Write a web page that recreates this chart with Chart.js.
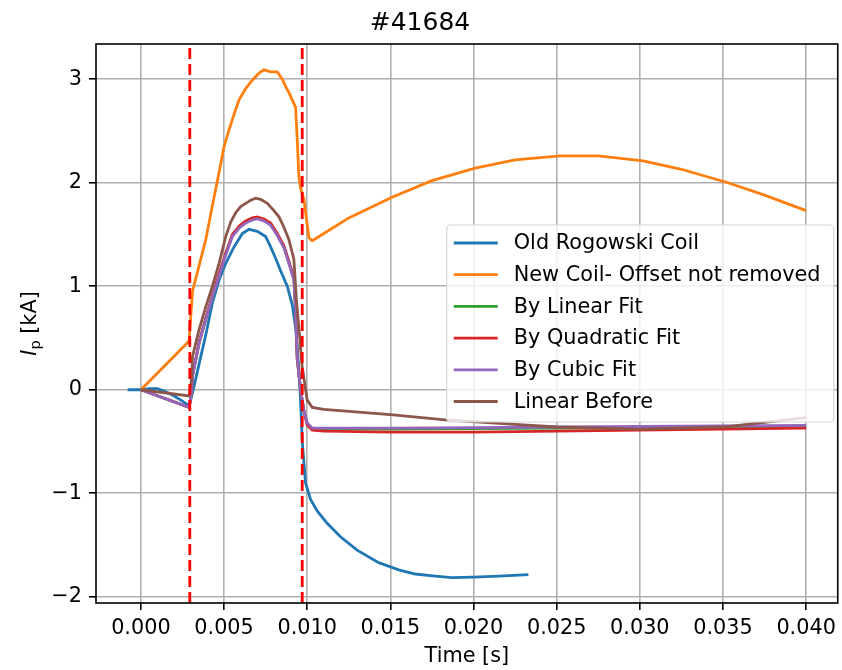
<!DOCTYPE html>
<html>
<head>
<meta charset="utf-8">
<script src="https://cdn.jsdelivr.net/npm/chart.js@4.4.0/dist/chart.umd.min.js"></script>
<style>
  body { margin: 0; background: #fff; }
  #wrap { width: 842px; height: 670px; }
</style>
</head>
<body>
<div id="wrap"><canvas id="c" width="842" height="670"></canvas></div>
<script>
// shot #41684, plasma current (time in s, Ip in kA)
var tOld = [-0.0008, 0.0, 0.0005, 0.0010, 0.0015, 0.0020, 0.0025, 0.0029, 0.00315, 0.0035, 0.0039, 0.0043, 0.0047, 0.0051, 0.0056, 0.0061, 0.0065, 0.0070, 0.0075, 0.0078, 0.0081, 0.0084, 0.0088, 0.0091, 0.0093, 0.0095, 0.0096, 0.0097, 0.0099, 0.0102, 0.0106, 0.0112, 0.0120, 0.0130, 0.0143, 0.0155, 0.0165, 0.0177, 0.0187, 0.0200, 0.0215, 0.0233];
var ipOld = [0.0, 0.0, 0.01, 0.01, -0.02, -0.06, -0.11, -0.155, 0.0, 0.25, 0.53, 0.84, 1.06, 1.22, 1.38, 1.51, 1.55, 1.53, 1.48, 1.38, 1.27, 1.15, 1.0, 0.82, 0.6, 0.2, -0.1, -0.5, -0.9, -1.06, -1.17, -1.29, -1.42, -1.55, -1.67, -1.74, -1.78, -1.80, -1.815, -1.81, -1.80, -1.785];

var tNew = [0.0, 0.0029, 0.0031, 0.0035, 0.0039, 0.0043, 0.0047, 0.0050, 0.0053, 0.0056, 0.0059, 0.0063, 0.0067, 0.0071, 0.0074, 0.0078, 0.0082, 0.0085, 0.0087, 0.0089, 0.0091, 0.0093, 0.0094, 0.0095, 0.0096, 0.0098, 0.0101, 0.0103, 0.0110, 0.0125, 0.0151, 0.0175, 0.0201, 0.0225, 0.0252, 0.0275, 0.0302, 0.0325, 0.0353, 0.0375, 0.0400];
var ipNew = [0.0, 0.47, 0.95, 1.2, 1.45, 1.78, 2.1, 2.35, 2.51, 2.66, 2.80, 2.91, 2.99, 3.06, 3.09, 3.07, 3.07, 3.0, 2.93, 2.87, 2.80, 2.73, 2.42, 2.06, 1.95, 1.84, 1.47, 1.44, 1.51, 1.66, 1.86, 2.02, 2.14, 2.22, 2.26, 2.26, 2.21, 2.13, 2.0, 1.88, 1.73];

var tFit = [0.0, 0.0029, 0.00305, 0.0031, 0.0035, 0.0039, 0.0043, 0.0047, 0.0051, 0.0055, 0.0059, 0.0063, 0.0067, 0.0070, 0.0074, 0.0078, 0.0082, 0.0086, 0.0089, 0.0092, 0.0093, 0.0094, 0.0096, 0.0098, 0.0100, 0.0103, 0.0110, 0.0150, 0.0200, 0.0250, 0.0300, 0.0350, 0.0400];
var ipLinear = [0.0, -0.17, -0.02, 0.13, 0.455, 0.685, 0.905, 1.11, 1.31, 1.49, 1.57, 1.62, 1.65, 1.66, 1.64, 1.60, 1.50, 1.38, 1.23, 1.07, 0.775, 0.3, 0.0, -0.2, -0.33, -0.38, -0.38, -0.38, -0.375, -0.37, -0.365, -0.36, -0.355];
var ipQuad = [0.0, -0.17, -0.02, 0.13, 0.46, 0.69, 0.91, 1.12, 1.32, 1.50, 1.58, 1.63, 1.66, 1.67, 1.65, 1.61, 1.51, 1.39, 1.24, 1.08, 0.78, 0.3, 0.0, -0.21, -0.34, -0.39, -0.40, -0.41, -0.41, -0.40, -0.39, -0.38, -0.37];
var ipCubic = [0.0, -0.17, -0.02, 0.13, 0.45, 0.68, 0.9, 1.1, 1.3, 1.48, 1.56, 1.61, 1.64, 1.65, 1.63, 1.59, 1.49, 1.37, 1.22, 1.06, 0.77, 0.3, 0.0, -0.2, -0.32, -0.37, -0.37, -0.37, -0.365, -0.36, -0.355, -0.35, -0.345];

var tBefore = [0.0, 0.0029, 0.00305, 0.0031, 0.0035, 0.0039, 0.0043, 0.0047, 0.0051, 0.0054, 0.0057, 0.0060, 0.0063, 0.0066, 0.0069, 0.0072, 0.0076, 0.0080, 0.0083, 0.0086, 0.0089, 0.0092, 0.00935, 0.0097, 0.0100, 0.0103, 0.0110, 0.0150, 0.0183, 0.0220, 0.0250, 0.0300, 0.0350, 0.0400];
var ipBefore = [0.0, -0.06, 0.1, 0.32, 0.58, 0.8, 1.0, 1.22, 1.48, 1.62, 1.71, 1.77, 1.80, 1.83, 1.85, 1.84, 1.80, 1.73, 1.67, 1.57, 1.45, 1.26, 0.87, 0.22, -0.1, -0.17, -0.19, -0.24, -0.29, -0.33, -0.36, -0.38, -0.36, -0.27];

var markTimes = [0.00294, 0.0097];   // red dashed window
var xMin = -0.0027, xMax = 0.0419;
var yMin = -2.06, yMax = 3.34;

var seriesNames = ['Old Rogowski Coil', 'New Coil- Offset not removed', 'By Linear Fit', 'By Quadratic Fit', 'By Cubic Fit', 'Linear Before'];
var seriesColors = ['#1f77b4', '#ff7f0e', '#2ca02c', '#d62728', '#9467bd', '#8c564b'];

var FONT = 'DejaVu Sans';
var LW = 2.8;

function pts(ts, vs) {
    return ts.map(function (t, i) { return {x: t, y: vs[i]}; });
}

var series = [pts(tOld, ipOld), pts(tNew, ipNew), pts(tFit, ipLinear), pts(tFit, ipQuad), pts(tFit, ipCubic), pts(tBefore, ipBefore)];

var datasets = [];
for (var i = 0; i < series.length; i++) {
    datasets.push({
        label: seriesNames[i],
        data: series[i],
        borderColor: seriesColors[i],
        backgroundColor: seriesColors[i],
        borderWidth: LW,
        pointRadius: 0,
        tension: 0,
        fill: false,
        order: series.length + 1 - i   // later series on top, like matplotlib
    });
}
markTimes.forEach(function (m) {
    datasets.push({
        label: '',
        data: [{x: m, y: yMin}, {x: m, y: yMax}],
        borderColor: '#ff0000',
        borderWidth: LW,
        borderDash: [11, 5],
        pointRadius: 0,
        fill: false,
        order: 0
    });
});

// frame, legend box and the Ip label
var mplExtras = {
    id: 'mplExtras',
    afterDatasetsDraw: function (chart) {
        var ctx = chart.ctx, ca = chart.chartArea;
        ctx.save();
        ctx.strokeStyle = '#000';
        ctx.lineWidth = 1.6;
        ctx.strokeRect(ca.left, ca.top, ca.right - ca.left, ca.bottom - ca.top);

        // legend, center right
        var bw = 387, bh = 197;
        var bx = ca.right - 4 - bw;
        var by = (ca.top + ca.bottom) / 2 - bh / 2;
        var r = 4;
        ctx.beginPath();
        ctx.moveTo(bx + r, by);
        ctx.arcTo(bx + bw, by, bx + bw, by + bh, r);
        ctx.arcTo(bx + bw, by + bh, bx, by + bh, r);
        ctx.arcTo(bx, by + bh, bx, by, r);
        ctx.arcTo(bx, by, bx + bw, by, r);
        ctx.closePath();
        ctx.fillStyle = 'rgba(255,255,255,0.8)';
        ctx.fill();
        ctx.strokeStyle = '#d6d6d6';
        ctx.lineWidth = 1.2;
        ctx.stroke();

        ctx.font = '20.8px "' + FONT + '"';
        ctx.textBaseline = 'middle';
        ctx.textAlign = 'left';
        for (var k = 0; k < seriesNames.length; k++) {
            var yy = by + 18 + k * 31.7;
            ctx.strokeStyle = seriesColors[k];
            ctx.lineWidth = LW;
            ctx.beginPath();
            ctx.moveTo(bx + 7, yy);
            ctx.lineTo(bx + 51, yy);
            ctx.stroke();
            ctx.fillStyle = '#000';
            ctx.fillText(seriesNames[k], bx + 67, yy + 1);
        }
        ctx.restore();

        // y label: italic I with subscript p
        ctx.save();
        ctx.translate(28, (ca.top + ca.bottom) / 2);
        ctx.rotate(-Math.PI / 2);
        ctx.fillStyle = '#000';
        ctx.textBaseline = 'alphabetic';
        ctx.textAlign = 'left';
        var fI = 'italic 20.8px "' + FONT + '"', fP = '14.6px "' + FONT + '"', fR = '20.8px "' + FONT + '"';
        ctx.font = fI; var wI = ctx.measureText('I').width;
        ctx.font = fP; var wP = ctx.measureText('p').width;
        ctx.font = fR; var wR = ctx.measureText(' [kA]').width;
        var x0 = -(wI + wP + wR) / 2;
        ctx.font = fI; ctx.fillText('I', x0, 7.5);
        ctx.font = fP; ctx.fillText('p', x0 + wI, 11.5);
        ctx.font = fR; ctx.fillText(' [kA]', x0 + wI + wP, 7.5);
        ctx.restore();
    }
};

new Chart(document.getElementById('c'), {
    type: 'line',
    data: {datasets: datasets},
    plugins: [mplExtras],
    options: {
        responsive: false,
        animation: false,
        layout: {padding: {left: 0, right: 2, top: 0, bottom: 0}},
        plugins: {
            legend: {display: false},
            tooltip: {enabled: false},
            title: {
                display: true,
                text: '#41684',
                color: '#000',
                font: {family: FONT, size: 25, weight: 'normal'},
                padding: {top: 8, bottom: 6}
            }
        },
        scales: {
            x: {
                type: 'linear',
                min: xMin,
                max: xMax,
                afterFit: function (s) { s.height = 67; },
                border: {display: false},
                grid: {color: '#b0b0b0', lineWidth: 1.6, drawTicks: true, tickLength: 7, tickColor: '#000', tickWidth: 1.6},
                ticks: {
                    stepSize: 0.005,
                    includeBounds: false,
                    autoSkip: false,
                    maxRotation: 0,
                    padding: 6,
                    color: '#000',
                    font: {family: FONT, size: 20.8},
                    callback: function (v) { return (Math.abs(v) < 1e-9 ? 0 : v).toFixed(3); }
                },
                title: {
                    display: true,
                    text: 'Time [s]',
                    color: '#000',
                    font: {family: FONT, size: 20.8},
                    padding: {top: 0, bottom: 1}
                }
            },
            y: {
                type: 'linear',
                min: yMin,
                max: yMax,
                afterFit: function (s) { s.width = 96; },
                border: {display: false},
                grid: {color: '#b0b0b0', lineWidth: 1.6, drawTicks: true, tickLength: 7, tickColor: '#000', tickWidth: 1.6},
                ticks: {
                    stepSize: 1,
                    includeBounds: false,
                    padding: 7,
                    color: '#000',
                    font: {family: FONT, size: 20.8},
                    callback: function (v) { return String(Math.round(v)).replace('-', '\u2212'); }
                }
            }
        }
    }
});
</script>
</body>
</html>
